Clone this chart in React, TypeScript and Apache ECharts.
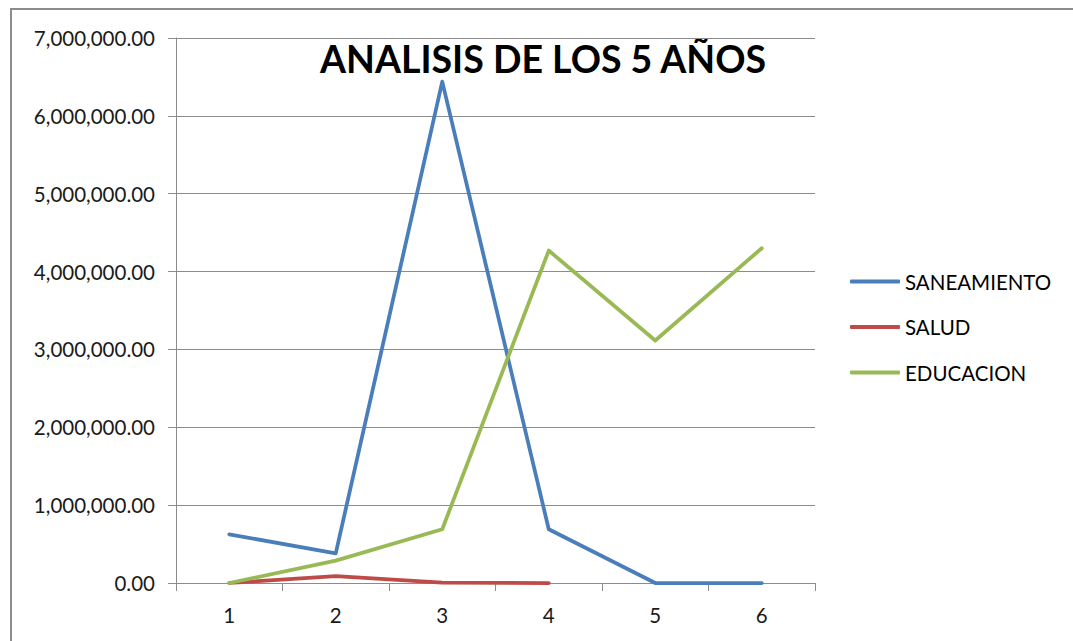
import React, { useEffect, useRef } from "react";
import * as echarts from "echarts";

const categories = ["1", "2", "3", "4", "5", "6"];
const saneamiento = [625000, 381000, 6440000, 690000, 0, 0];
const salud: (number | string)[] = [0, 88000, 5000, 0, "-", "-"];
const educacion = [0, 287000, 690000, 4270000, 3115000, 4300000];
const titleText = "ANALISIS DE LOS 5 AÑOS";

const FONT = "Lato, 'Open Sans', sans-serif";

function fmt(v: number) {
  return v.toLocaleString("en-US", { minimumFractionDigits: 2, maximumFractionDigits: 2 });
}

export default function App() {
  const ref = useRef<HTMLDivElement>(null);
  useEffect(() => {
    if (!ref.current) return;
    const chart = echarts.init(ref.current, null, { renderer: "svg" });
    chart.setOption({
      animation: false,
      backgroundColor: "#ffffff",
      textStyle: { fontFamily: FONT },
      graphic: [
        {
          type: "rect",
          shape: { x: 11, y: 9, width: 1200, height: 800 },
          style: { fill: "none", stroke: "#8c8c8c", lineWidth: 2 },
          silent: true,
        },
        {
          type: "text",
          x: 543,
          y: 58,
          style: {
            text: titleText,
            font: `bold 37.5px ${FONT}`,
            fill: "#000000",
            align: "center",
            verticalAlign: "middle",
          },
        },
      ],
      grid: { left: 176, right: 258, top: 38, bottom: 58, containLabel: false },
      legend: {
        orient: "vertical",
        left: 850,
        top: 271,
        padding: 0,
        itemWidth: 50,
        itemHeight: 4,
        itemGap: 24.5,
        icon: "roundRect",
        textStyle: { fontSize: 20.5, color: "#000", lineHeight: 20, fontFamily: FONT },
        data: ["SANEAMIENTO", "SALUD", "EDUCACION"],
      },
      xAxis: {
        type: "category",
        data: categories,
        boundaryGap: true,
        axisLine: { show: true, lineStyle: { color: "#8c8c8c", width: 1 } },
        axisTick: { show: true, inside: false, length: 8, lineStyle: { color: "#8c8c8c" } },
        axisLabel: { fontSize: 20.5, color: "#1a1a1a", margin: 21, fontFamily: FONT },
        splitLine: { show: false },
      },
      yAxis: {
        type: "value",
        min: 0,
        max: 7000000,
        interval: 1000000,
        axisLine: { show: true, lineStyle: { color: "#8c8c8c", width: 1 } },
        axisTick: { show: true, length: 8, lineStyle: { color: "#8c8c8c" } },
        axisLabel: { fontSize: 20.5, color: "#1a1a1a", margin: 21, formatter: (v: number) => fmt(v), fontFamily: FONT },
        splitLine: { show: true, lineStyle: { color: "#8c8c8c", width: 1 } },
      },
      series: [
        {
          name: "SANEAMIENTO",
          type: "line",
          data: saneamiento,
          showSymbol: false,
          symbol: "none",
          color: "#4a7ebb",
          lineStyle: { width: 3.75, color: "#4a7ebb", cap: "round", join: "round" },
        },
        {
          name: "SALUD",
          type: "line",
          data: salud,
          showSymbol: false,
          symbol: "none",
          color: "#be4b48",
          lineStyle: { width: 3.75, color: "#be4b48", cap: "round", join: "round" },
        },
        {
          name: "EDUCACION",
          type: "line",
          data: educacion,
          showSymbol: false,
          symbol: "none",
          color: "#98b954",
          lineStyle: { width: 3.75, color: "#98b954", cap: "round", join: "round" },
        },
      ],
    });
    return () => chart.dispose();
  }, []);
  return (
    <div
      ref={ref}
      style={{ position: "fixed", left: 0, top: 0, width: 1073, height: 641 }}
    />
  );
}
